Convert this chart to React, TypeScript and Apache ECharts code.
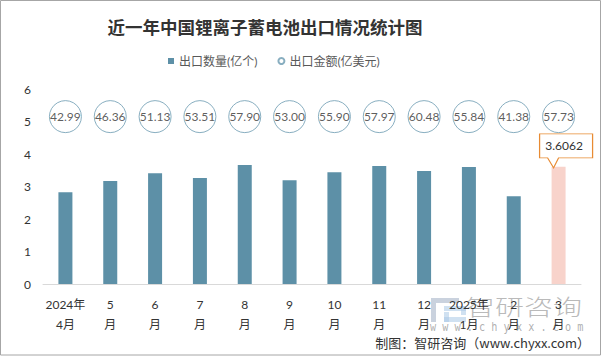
import React, { useEffect, useRef } from "react";
import * as echarts from "echarts";

const categories = ["2024年\n4月", "5\n月", "6\n月", "7\n月", "8\n月", "9\n月", "10\n月", "11\n月", "12\n月", "2025年\n1月", "2\n月", "3\n月"];
const quantity = [2.82, 3.17, 3.41, 3.26, 3.66, 3.19, 3.44, 3.63, 3.48, 3.6, 2.7, 3.6062];
const amount = [42.99, 46.36, 51.13, 53.51, 57.9, 53.0, 55.9, 57.97, 60.48, 55.84, 41.38, 57.73];
const yTicks = [0, 1, 2, 3, 4, 5, 6];

const BAR = "#5d90a7";
const HIGHLIGHT = "#f8d3cb";
const FONT = 'Lato, "Noto Sans CJK SC", sans-serif';

export default function App() {
  const ref = useRef<HTMLDivElement>(null);
  useEffect(() => {
    if (!ref.current) return;
    const chart = echarts.init(ref.current, null, { renderer: "svg" });
    const last = quantity.length - 1;
    chart.setOption({
      animation: false,
      backgroundColor: "#fff",
      textStyle: { fontFamily: FONT },
      title: {
        text: "近一年中国锂离子蓄电池出口情况统计图",
        left: 260,
        textAlign: "center",
        top: 13,
        textStyle: { fontSize: 17.5, fontWeight: "bold", color: "#333", fontFamily: '"Noto Sans CJK SC", serif' },
      },
      legend: {
        left: 163,
        top: 50,
        itemWidth: 6,
        itemHeight: 6,
        itemGap: 20,
        textStyle: { fontSize: 12, color: "#595959", fontFamily: FONT },
        data: [
          { name: "出口数量(亿个)", icon: "rect" },
          { name: "出口金额(亿美元)", icon: "circle" },
        ],
      },
      grid: { left: 43, right: 21, top: 89, bottom: 72, containLabel: false },
      xAxis: {
        type: "category",
        data: categories,
        axisLine: { lineStyle: { color: "#d9d9d9" } },
        axisTick: { show: false },
        axisLabel: { color: "#333", fontSize: 12, lineHeight: 20, margin: 10, interval: 0, fontFamily: FONT },
      },
      yAxis: {
        type: "value",
        min: yTicks[0],
        max: yTicks[yTicks.length - 1],
        interval: 1,
        splitLine: { show: false },
        axisLine: { show: false },
        axisTick: { show: false },
        axisLabel: { color: "#333", fontSize: 12, margin: 12, fontFamily: FONT },
      },
      series: [
        {
          name: "出口数量(亿个)",
          type: "bar",
          barWidth: 14,
          itemStyle: { color: BAR },
          data: quantity.map((v, i) => (i === last ? { value: v, itemStyle: { color: HIGHLIGHT } } : v)),
          markPoint: {
            symbol: "path://M0,0 L53,0 L53,24 L19,24 L14,34 L8,24 L0,24 Z",
            symbolSize: [53, 34],
            symbolOffset: [7.5, -16],
            itemStyle: { color: "#fff", borderColor: "#e88b33", borderWidth: 1 },
            label: {
              show: true,
              position: "inside",
              offset: [-2, -5],
              color: "#333",
              fontSize: 12,
              fontFamily: FONT,
              formatter: (p: any) => String(p.value),
            },
            data: [{ coord: [last, quantity[last]], value: quantity[last] }],
          },
        },
        {
          name: "出口金额(亿美元)",
          type: "scatter",
          symbol: "circle",
          symbolSize: 32,
          itemStyle: { color: "#fff", borderColor: "#6a9ab0", borderWidth: 1 },
          label: {
            show: true,
            position: "inside",
            color: "#333",
            fontSize: 12,
            fontFamily: FONT,
            formatter: (p: any) => amount[p.dataIndex].toFixed(2),
          },
          data: amount.map(() => 5.15),
        },
      ],
      graphic: [
        {
          type: "rect",
          shape: { x: 0.5, y: 0.5, width: 600, height: 354.5 },
          style: { fill: "none", stroke: "#a6a6a6", lineWidth: 1 },
          silent: true,
        },
        {
          type: "group",
          silent: true,
          z: 100,
          children: [
            { type: "rect", shape: { x: 431, y: 298, width: 28, height: 5 }, style: { fill: "rgba(150,165,190,0.5)" } },
            { type: "rect", shape: { x: 431, y: 303, width: 5, height: 19 }, style: { fill: "rgba(150,165,190,0.5)" } },
            { type: "rect", shape: { x: 444, y: 306, width: 22, height: 5 }, style: { fill: "rgba(170,200,230,0.55)" } },
            { type: "rect", shape: { x: 461, y: 306, width: 5, height: 9 }, style: { fill: "rgba(170,200,230,0.55)" } },
            { type: "rect", shape: { x: 444, y: 312, width: 5, height: 10 }, style: { fill: "rgba(170,200,230,0.55)" } },
            { type: "rect", shape: { x: 444, y: 317, width: 22, height: 5 }, style: { fill: "rgba(170,200,230,0.55)" } },
            {
              type: "text",
              x: 466,
              y: 294,
              scaleY: 0.75,
              style: { text: "智研咨询", fontSize: 29, fill: "rgba(140,140,140,0.6)", fontFamily: '"Noto Sans CJK SC"', fontWeight: 300 },
            },
            {
              type: "text",
              x: 430,
              y: 321,
              scaleX: 0.85,
              style: { text: "w w w . c h y x x . c o m", fontSize: 12, fill: "rgba(140,140,140,0.7)", fontFamily: '"DejaVu Sans Mono"' },
            },
          ],
        },
        {
          type: "text",
          right: 12,
          top: 336,
          style: { text: "制图：智研咨询（www.chyxx.com）", fontSize: 13, fill: "#333", fontFamily: '"Noto Sans CJK SC"' },
          silent: true,
          z: 101,
        },
      ],
    });
    return () => chart.dispose();
  }, []);
  return <div ref={ref} style={{ position: "absolute", left: 0, top: 0, width: 602, height: 356 }} />;
}
